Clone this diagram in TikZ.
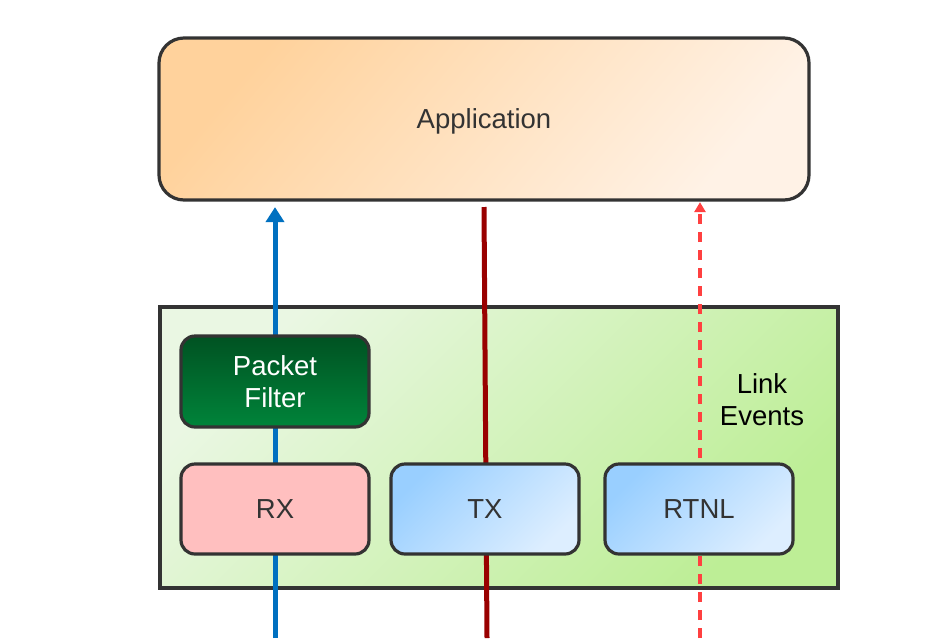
\documentclass[tikz,border=0pt]{standalone}
\usepackage{fontspec}
\setmainfont{Liberation Sans}
\usetikzlibrary{arrows.meta,positioning}
\definecolor{boxline}{HTML}{333333}
\definecolor{apptl}{HTML}{FFD29C}
\definecolor{appbr}{HTML}{FFF2E6}
\definecolor{grtl}{HTML}{EAF7E3}
\definecolor{grbr}{HTML}{BDEE96}
\definecolor{pftop}{HTML}{005222}
\definecolor{pfbot}{HTML}{00843A}
\definecolor{rxfill}{HTML}{FFBFBF}
\definecolor{bltl}{HTML}{99CFFF}
\definecolor{blbr}{HTML}{DDEEFF}
\definecolor{rxblue}{HTML}{0070C0}
\definecolor{txred}{HTML}{990000}
\definecolor{evred}{HTML}{FF4040}
\definecolor{txtgray}{HTML}{333333}
\tikzset{
  bigfont/.style={font=\fontsize{27.5}{32}\selectfont},
  appbox/.style={draw=boxline, line width=3.2pt, rounded corners=25pt,
    minimum width=650pt, minimum height=162pt, inner sep=0pt, text depth=0pt,
    shading=axis, top color=apptl, bottom color=appbr, shading angle=50,
    text=txtgray, bigfont},
  layerbox/.style={draw=boxline, line width=3.2pt, minimum width=678pt, minimum height=281pt,
    inner sep=0pt, shading=axis, top color=grtl, bottom color=grbr, shading angle=45},
  smallbox/.style={draw=boxline, line width=3.2pt, rounded corners=14pt,
    minimum width=188pt, minimum height=90pt, inner sep=0pt, bigfont, align=center},
  pfbox/.style={smallbox, minimum height=91pt, shading=axis, top color=pftop, bottom color=pfbot, text=white},
  rxbox/.style={smallbox, fill=rxfill, text=txtgray},
  bluebox/.style={smallbox, shading=axis, top color=bltl, bottom color=blbr, shading angle=45, text=txtgray},
  rxpath/.style={rxblue, line width=5pt, -{Triangle[width=18pt,length=15pt]}},
  txpath/.style={txred, line width=5pt},
  evpath/.style={evred, line width=3.3pt, dash pattern=on 10pt off 8pt, -{Triangle[width=11pt,length=10pt]}},
}
\begin{document}
\begin{tikzpicture}[x=1pt,y=-1pt]
  \useasboundingbox (0,0) rectangle (936,638);
  \node[layerbox] (layer) at (499,447.5) {};
  \node[appbox] (app) at (484,119) {Application};
  \coordinate (rxin) at (275,638);
  \coordinate (txout) at (487,638);
  \coordinate (evin) at (700,638);
  \coordinate (txtop) at (484,207);
  \draw[rxpath, shorten >=5.5pt] (rxin) -- (rxin |- app.south);
  \draw[txpath] (txtop) -- (txout);
  \draw[evpath, shorten >=0.5pt] (evin) -- (evin |- app.south);
  \node[pfbox] (pf) at (275,381.5) {Packet\\Filter};
  \node[rxbox] (rx) at (275,509) {RX};
  \node[bluebox] (tx) at (485,509) {TX};
  \node[bluebox] (rtnl) at (699,509) {RTNL};
  \node[bigfont, align=center, text=black] (ev) at (762,399.5) {Link\\Events};
\end{tikzpicture}
\end{document}
